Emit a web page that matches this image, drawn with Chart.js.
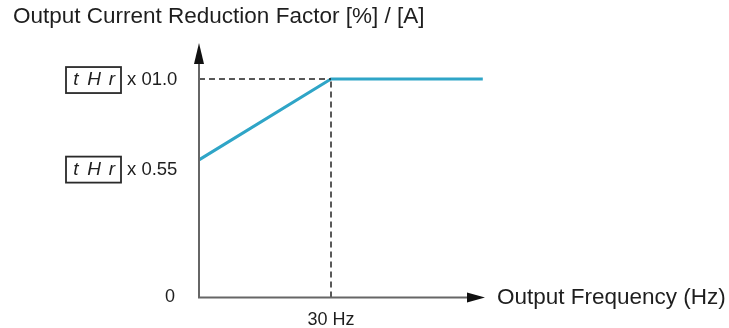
<!DOCTYPE html>
<html>
<head>
<meta charset="utf-8">
<script src="https://cdn.jsdelivr.net/npm/chart.js@4"></script>
<style>
  html, body { margin: 0; padding: 0; background: #fff; }
  #wrap { position: relative; width: 729px; height: 328px; }
</style>
</head>
<body>
<div id="wrap"><canvas id="chart" width="729" height="328"></canvas></div>
<script>
// Schematic derating curve (x in Hz, y as reduction factor)
const curveX = [0, 30, 64.5];
const curveY = [0.63, 1.0, 1.0];
// dashed guide lines to the corner point
const guideHX = [0, 30];
const guideHY = [1.0, 1.0];
const guideVX = [30, 30];
const guideVY = [0, 1.0];
// axis labels
const yTickValues = [1.0, 0.59];
const yTickLabels = ['x 01.0', 'x 0.55'];
const xTickValues = [30];
const xTickLabels = ['30 Hz'];
const titleText = 'Output Current Reduction Factor [%] / [A]';
const xTitleText = 'Output Frequency (Hz)';
const paramCode = ['t', 'H', 'r'];

const FONT = '"Liberation Sans", Arial, sans-serif';
const TEXT = '#1e1e1e';

function pts(xs, ys) {
    return xs.map((x, i) => ({ x: x, y: ys[i] }));
}

// Draws the arrowed axes, the labels and the parameter boxes
const schemePlugin = {
    id: 'scheme',
    afterDraw(chart) {
        const ctx = chart.ctx;
        const xs = chart.scales.x, ys = chart.scales.y;
        const x0 = xs.getPixelForValue(0);
        const y0 = ys.getPixelForValue(0);
        const top = chart.chartArea.top, right = chart.chartArea.right;
        ctx.save();

        // axes
        ctx.strokeStyle = '#666';
        ctx.lineWidth = 2;
        ctx.beginPath();
        ctx.moveTo(x0, y0);
        ctx.lineTo(x0, top + 18);
        ctx.moveTo(x0 - 1, y0);
        ctx.lineTo(right - 16, y0);
        ctx.stroke();

        ctx.fillStyle = '#111';
        ctx.beginPath();
        ctx.moveTo(x0, top);
        ctx.lineTo(x0 - 5, top + 21);
        ctx.lineTo(x0 + 5, top + 21);
        ctx.closePath();
        ctx.fill();
        ctx.beginPath();
        ctx.moveTo(right, y0);
        ctx.lineTo(right - 18, y0 - 5);
        ctx.lineTo(right - 18, y0 + 5);
        ctx.closePath();
        ctx.fill();

        // text
        ctx.fillStyle = TEXT;
        ctx.textBaseline = 'middle';
        ctx.textAlign = 'left';
        ctx.font = '22.5px ' + FONT;
        ctx.fillText(titleText, 13, 17);
        ctx.fillText(xTitleText, 497, y0);

        ctx.font = '18px ' + FONT;
        ctx.textAlign = 'center';
        ctx.fillText('0', 170, y0);
        xTickValues.forEach((v, i) => {
            ctx.fillText(xTickLabels[i], xs.getPixelForValue(v), 320);
        });

        yTickValues.forEach((v, i) => {
            const py = ys.getPixelForValue(v) + 1;
            ctx.strokeStyle = '#2a2a2a';
            ctx.lineWidth = 1.8;
            ctx.strokeRect(66, py - 13, 55, 26);
            ctx.font = 'italic 19px ' + FONT;
            ctx.fillStyle = TEXT;
            ctx.textAlign = 'center';
            paramCode.forEach((c, k) => ctx.fillText(c, 76 + k * 18, py));
            ctx.textAlign = 'left';
            ctx.font = '18.5px ' + FONT;
            ctx.fillText(yTickLabels[i], 127, py);
        });
        ctx.restore();
    }
};

new Chart(document.getElementById('chart'), {
    type: 'scatter',
    data: {
        datasets: [
            { data: pts(guideHX, guideHY), showLine: true, borderColor: '#222', borderWidth: 1.5, borderDash: [6, 4], pointRadius: 0 },
            { data: pts(guideVX, guideVY), showLine: true, borderColor: '#222', borderWidth: 1.5, borderDash: [6, 4], pointRadius: 0 },
            { data: pts(curveX, curveY), showLine: true, borderColor: '#2fa5c7', borderWidth: 3, pointRadius: 0 }
        ]
    },
    options: {
        responsive: false,
        animation: false,
        layout: { padding: { left: 199, right: 244, top: 43, bottom: 30.5 } },
        plugins: { legend: { display: false }, tooltip: { enabled: false } },
        scales: {
            x: { type: 'linear', min: 0, max: 65, display: false },
            y: { type: 'linear', min: 0, max: 1.165, display: false }
        }
    },
    plugins: [schemePlugin]
});
</script>
</body>
</html>
